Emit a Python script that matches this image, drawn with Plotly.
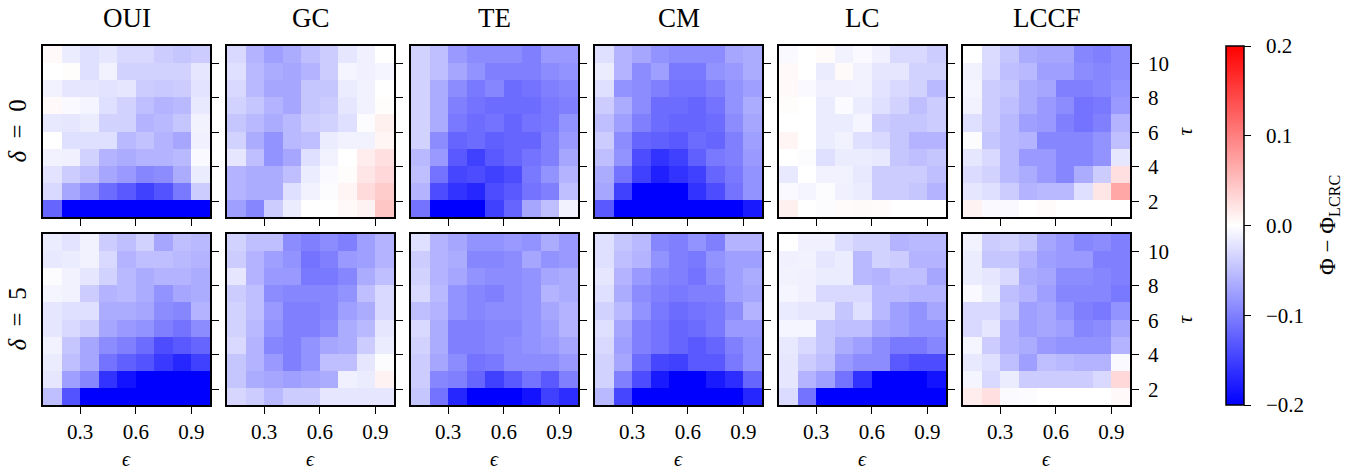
import plotly.graph_objects as go

# Grid of the parameter sweep: epsilon columns and tau rows (cell edges)
EPS_EDGES = [0.1, 0.2, 0.3, 0.4, 0.5, 0.6, 0.7, 0.8, 0.9, 1.0]
TAU_EDGES = [1.1, 2.09, 3.08, 4.07, 5.06, 6.05, 7.04, 8.03, 9.02, 10.01, 11.0]

METHODS = ["OUI", "GC", "TE", "CM", "LC", "LCCF"]
DELTAS = ["0", "5"]

EPS_TICKS = [0.3, 0.6, 0.9]
TAU_TICKS = [2, 4, 6, 8, 10]
CBAR_TICKS = [-0.2, -0.1, 0.0, 0.1, 0.2]
CBAR_LABELS = ["\u22120.2", "\u22120.1", "0.0", "0.1", "0.2"]

# Phi - Phi_LCRC, rows listed from the largest tau (top) down to the smallest
OUI_D0 = [
    [0.005, -0.015, -0.025, -0.02, -0.03, -0.03, -0.04, -0.045, -0.04],
    [0.0, 0.002, -0.025, -0.01, -0.035, -0.035, -0.035, -0.035, -0.02],
    [-0.01, -0.02, -0.02, -0.022, -0.02, -0.04, -0.042, -0.04, -0.022],
    [0.005, -0.005, -0.008, -0.025, -0.035, -0.05, -0.06, -0.055, -0.018],
    [-0.018, -0.02, -0.015, -0.035, -0.035, -0.06, -0.055, -0.045, -0.01],
    [0.0, -0.025, -0.025, -0.025, -0.055, -0.048, -0.06, -0.07, -0.012],
    [-0.01, -0.012, -0.035, -0.06, -0.065, -0.06, -0.06, -0.055, -0.005],
    [-0.022, -0.04, -0.05, -0.07, -0.08, -0.095, -0.09, -0.065, -0.015],
    [-0.03, -0.07, -0.09, -0.115, -0.13, -0.15, -0.135, -0.105, -0.04],
    [-0.12, -0.2, -0.2, -0.2, -0.2, -0.2, -0.2, -0.2, -0.2],
]
GC_D0 = [
    [-0.03, -0.06, -0.075, -0.065, -0.05, -0.04, -0.02, -0.012, 0.0],
    [-0.025, -0.055, -0.065, -0.07, -0.06, -0.04, -0.008, -0.012, -0.008],
    [-0.03, -0.055, -0.07, -0.07, -0.045, -0.045, -0.015, -0.01, 0.0],
    [-0.035, -0.045, -0.06, -0.07, -0.045, -0.04, -0.02, -0.01, 0.002],
    [-0.045, -0.055, -0.065, -0.055, -0.04, -0.035, -0.025, -0.002, 0.012],
    [-0.035, -0.065, -0.085, -0.055, -0.05, -0.015, -0.01, -0.01, 0.008],
    [-0.02, -0.05, -0.085, -0.07, -0.025, -0.01, 0.0, 0.015, 0.025],
    [-0.06, -0.065, -0.065, -0.05, -0.015, -0.005, 0.002, 0.02, 0.03],
    [-0.06, -0.065, -0.065, -0.025, -0.01, -0.002, 0.008, 0.028, 0.04],
    [-0.075, -0.095, -0.04, -0.015, 0.0, 0.0, 0.005, 0.01, 0.045],
]
TE_D0 = [
    [-0.035, -0.05, -0.08, -0.09, -0.09, -0.09, -0.1, -0.08, -0.08],
    [-0.035, -0.05, -0.07, -0.085, -0.1, -0.1, -0.1, -0.09, -0.085],
    [-0.035, -0.065, -0.09, -0.105, -0.095, -0.115, -0.11, -0.1, -0.095],
    [-0.035, -0.065, -0.1, -0.11, -0.115, -0.115, -0.115, -0.105, -0.1],
    [-0.035, -0.065, -0.105, -0.115, -0.11, -0.12, -0.11, -0.105, -0.085],
    [-0.035, -0.09, -0.12, -0.115, -0.125, -0.12, -0.12, -0.1, -0.08],
    [-0.055, -0.08, -0.13, -0.15, -0.13, -0.12, -0.11, -0.1, -0.07],
    [-0.05, -0.11, -0.145, -0.14, -0.15, -0.14, -0.105, -0.085, -0.06],
    [-0.06, -0.14, -0.16, -0.17, -0.14, -0.13, -0.11, -0.1, -0.05],
    [-0.11, -0.2, -0.2, -0.2, -0.15, -0.12, -0.07, -0.05, -0.01],
]
CM_D0 = [
    [-0.025, -0.06, -0.07, -0.085, -0.09, -0.09, -0.09, -0.07, -0.065],
    [-0.015, -0.06, -0.09, -0.075, -0.105, -0.105, -0.085, -0.08, -0.065],
    [-0.025, -0.085, -0.09, -0.1, -0.11, -0.11, -0.1, -0.085, -0.075],
    [-0.04, -0.065, -0.09, -0.115, -0.115, -0.12, -0.11, -0.085, -0.065],
    [-0.05, -0.075, -0.1, -0.115, -0.12, -0.12, -0.115, -0.09, -0.07],
    [-0.04, -0.09, -0.12, -0.125, -0.13, -0.115, -0.12, -0.1, -0.075],
    [-0.05, -0.085, -0.14, -0.16, -0.15, -0.125, -0.105, -0.1, -0.08],
    [-0.065, -0.11, -0.15, -0.175, -0.16, -0.15, -0.12, -0.105, -0.085],
    [-0.07, -0.15, -0.2, -0.2, -0.2, -0.16, -0.14, -0.11, -0.085],
    [-0.13, -0.2, -0.2, -0.2, -0.2, -0.2, -0.2, -0.2, -0.18],
]
LC_D0 = [
    [-0.005, 0.0, 0.003, -0.01, -0.005, -0.012, -0.03, -0.03, -0.04],
    [0.005, 0.0, -0.015, 0.004, -0.01, -0.02, -0.02, -0.035, -0.035],
    [0.005, -0.005, -0.012, -0.012, -0.01, -0.022, -0.03, -0.035, -0.055],
    [0.002, 0.0, -0.015, -0.003, -0.015, -0.025, -0.035, -0.05, -0.04],
    [0.0, 0.0, -0.015, -0.015, -0.008, -0.04, -0.045, -0.045, -0.04],
    [0.008, 0.0, -0.015, -0.01, -0.025, -0.03, -0.045, -0.06, -0.06],
    [0.0, -0.002, -0.025, -0.015, -0.015, -0.018, -0.045, -0.05, -0.045],
    [-0.018, 0.0, -0.01, -0.01, -0.018, -0.04, -0.04, -0.04, -0.05],
    [-0.005, -0.008, -0.002, -0.012, -0.015, -0.04, -0.04, -0.045, -0.06],
    [0.012, 0.0, -0.002, 0.003, 0.004, 0.003, 0.0, 0.0, 0.0],
]
LCCF_D0 = [
    [0.0, -0.028, -0.045, -0.065, -0.07, -0.07, -0.095, -0.1, -0.09],
    [-0.01, -0.03, -0.05, -0.055, -0.075, -0.075, -0.09, -0.095, -0.09],
    [-0.008, -0.04, -0.045, -0.065, -0.07, -0.1, -0.1, -0.095, -0.085],
    [-0.01, -0.04, -0.05, -0.065, -0.08, -0.09, -0.11, -0.105, -0.08],
    [-0.025, -0.04, -0.055, -0.075, -0.08, -0.1, -0.11, -0.1, -0.06],
    [-0.002, -0.045, -0.055, -0.06, -0.095, -0.095, -0.095, -0.085, -0.05],
    [-0.02, -0.03, -0.055, -0.08, -0.08, -0.095, -0.095, -0.085, -0.02],
    [-0.028, -0.035, -0.055, -0.065, -0.08, -0.095, -0.065, -0.04, 0.025],
    [-0.02, -0.025, -0.04, -0.06, -0.055, -0.055, -0.025, 0.02, 0.07],
    [0.01, -0.005, -0.005, 0.0, 0.003, 0.0, 0.0, 0.0, 0.0],
]
OUI_D5 = [
    [-0.015, -0.022, -0.01, -0.04, -0.05, -0.035, -0.07, -0.05, -0.055],
    [-0.018, -0.015, -0.01, -0.03, -0.06, -0.05, -0.05, -0.055, -0.06],
    [-0.002, -0.01, -0.02, -0.035, -0.055, -0.065, -0.06, -0.06, -0.065],
    [-0.008, -0.01, -0.04, -0.06, -0.055, -0.065, -0.085, -0.07, -0.065],
    [-0.02, -0.025, -0.025, -0.065, -0.065, -0.07, -0.09, -0.095, -0.06],
    [-0.02, -0.03, -0.04, -0.07, -0.08, -0.085, -0.1, -0.11, -0.09],
    [-0.01, -0.045, -0.07, -0.09, -0.1, -0.115, -0.14, -0.13, -0.12],
    [-0.015, -0.05, -0.07, -0.11, -0.125, -0.135, -0.155, -0.17, -0.15],
    [-0.02, -0.075, -0.095, -0.16, -0.185, -0.2, -0.2, -0.2, -0.2],
    [-0.05, -0.135, -0.2, -0.2, -0.2, -0.2, -0.2, -0.2, -0.2],
]
GC_D5 = [
    [-0.035, -0.05, -0.05, -0.09, -0.1, -0.09, -0.1, -0.075, -0.06],
    [-0.04, -0.06, -0.075, -0.085, -0.11, -0.1, -0.08, -0.075, -0.06],
    [-0.02, -0.06, -0.08, -0.08, -0.105, -0.105, -0.095, -0.065, -0.05],
    [-0.04, -0.05, -0.09, -0.095, -0.095, -0.095, -0.085, -0.05, -0.03],
    [-0.035, -0.05, -0.08, -0.1, -0.1, -0.095, -0.075, -0.065, -0.03],
    [-0.035, -0.055, -0.085, -0.1, -0.1, -0.09, -0.065, -0.055, -0.02],
    [-0.03, -0.06, -0.095, -0.1, -0.085, -0.07, -0.065, -0.04, -0.015],
    [-0.045, -0.06, -0.08, -0.1, -0.085, -0.05, -0.05, -0.02, -0.002],
    [-0.045, -0.065, -0.07, -0.075, -0.07, -0.065, -0.012, -0.015, 0.01],
    [-0.032, -0.04, -0.055, -0.04, -0.04, -0.02, -0.02, -0.02, -0.02],
]
TE_D5 = [
    [-0.025, -0.06, -0.07, -0.085, -0.085, -0.08, -0.085, -0.065, -0.08],
    [-0.04, -0.06, -0.065, -0.095, -0.095, -0.09, -0.07, -0.085, -0.08],
    [-0.035, -0.06, -0.07, -0.085, -0.09, -0.09, -0.085, -0.07, -0.065],
    [-0.03, -0.055, -0.085, -0.095, -0.1, -0.09, -0.085, -0.06, -0.065],
    [-0.05, -0.06, -0.085, -0.095, -0.09, -0.09, -0.085, -0.07, -0.06],
    [-0.03, -0.065, -0.1, -0.1, -0.095, -0.095, -0.085, -0.075, -0.06],
    [-0.035, -0.065, -0.1, -0.1, -0.095, -0.09, -0.085, -0.08, -0.07],
    [-0.04, -0.07, -0.09, -0.11, -0.105, -0.09, -0.09, -0.09, -0.08],
    [-0.04, -0.095, -0.1, -0.12, -0.15, -0.13, -0.11, -0.13, -0.1],
    [-0.045, -0.11, -0.17, -0.2, -0.2, -0.2, -0.185, -0.15, -0.165],
]
CM_D5 = [
    [-0.025, -0.045, -0.055, -0.095, -0.1, -0.085, -0.1, -0.06, -0.06],
    [-0.025, -0.05, -0.06, -0.085, -0.1, -0.105, -0.085, -0.075, -0.075],
    [-0.02, -0.06, -0.08, -0.095, -0.1, -0.11, -0.09, -0.075, -0.065],
    [-0.025, -0.065, -0.09, -0.1, -0.105, -0.1, -0.1, -0.075, -0.07],
    [-0.035, -0.055, -0.085, -0.105, -0.115, -0.11, -0.105, -0.09, -0.06],
    [-0.025, -0.07, -0.1, -0.11, -0.12, -0.115, -0.105, -0.08, -0.08],
    [-0.03, -0.075, -0.1, -0.11, -0.12, -0.13, -0.12, -0.1, -0.085],
    [-0.035, -0.07, -0.115, -0.145, -0.15, -0.13, -0.13, -0.105, -0.085],
    [-0.035, -0.1, -0.14, -0.18, -0.2, -0.2, -0.18, -0.165, -0.12],
    [-0.055, -0.145, -0.2, -0.2, -0.2, -0.2, -0.2, -0.2, -0.17],
]
LC_D5 = [
    [0.0, -0.012, -0.012, -0.027, -0.035, -0.035, -0.06, -0.055, -0.055],
    [-0.012, -0.01, -0.02, -0.015, -0.055, -0.035, -0.04, -0.06, -0.06],
    [-0.01, -0.012, -0.015, -0.015, -0.055, -0.06, -0.05, -0.05, -0.07],
    [-0.008, -0.012, -0.03, -0.03, -0.03, -0.055, -0.055, -0.06, -0.06],
    [-0.016, -0.02, -0.02, -0.045, -0.025, -0.055, -0.075, -0.085, -0.07],
    [-0.008, -0.008, -0.045, -0.05, -0.05, -0.07, -0.075, -0.085, -0.085],
    [-0.018, -0.03, -0.045, -0.065, -0.075, -0.09, -0.105, -0.105, -0.095],
    [-0.02, -0.04, -0.05, -0.08, -0.09, -0.09, -0.13, -0.14, -0.14],
    [-0.02, -0.06, -0.075, -0.11, -0.16, -0.2, -0.2, -0.2, -0.185],
    [-0.028, -0.11, -0.2, -0.2, -0.2, -0.2, -0.2, -0.2, -0.2],
]
LCCF_D5 = [
    [-0.01, -0.04, -0.035, -0.045, -0.07, -0.08, -0.095, -0.09, -0.1],
    [-0.015, -0.045, -0.045, -0.06, -0.075, -0.08, -0.08, -0.1, -0.1],
    [-0.015, -0.02, -0.03, -0.065, -0.07, -0.09, -0.09, -0.095, -0.1],
    [-0.005, -0.015, -0.05, -0.06, -0.075, -0.095, -0.095, -0.095, -0.105],
    [-0.03, -0.03, -0.045, -0.075, -0.07, -0.085, -0.1, -0.105, -0.085],
    [-0.03, -0.02, -0.06, -0.075, -0.07, -0.075, -0.095, -0.09, -0.07],
    [-0.008, -0.04, -0.06, -0.065, -0.08, -0.085, -0.085, -0.085, -0.06],
    [-0.018, -0.025, -0.05, -0.075, -0.05, -0.055, -0.06, -0.06, -0.005],
    [-0.008, -0.03, -0.015, -0.04, -0.04, -0.04, -0.04, -0.03, 0.03],
    [0.015, 0.025, -0.003, -0.002, 0.0, 0.0, 0.0, 0.0, 0.005],
]

PANELS = [
    [OUI_D0, GC_D0, TE_D0, CM_D0, LC_D0, LCCF_D0],
    [OUI_D5, GC_D5, TE_D5, CM_D5, LC_D5, LCCF_D5],
]

# ---- figure geometry (pixels) ----
W, H = 1347, 472
COL_LEFT = [43, 227, 411, 595, 779, 963]
PANEL_W = 167
ROW_TOP = [46, 234]
PANEL_H = 171

FONT = "Liberation Serif, DejaVu Serif, serif"
TICK_SIZE = 21
BWR = [[0.0, "rgb(0,0,255)"], [0.5, "rgb(255,255,255)"], [1.0, "rgb(255,0,0)"]]

fig = go.Figure()
layout = dict(
    width=W, height=H,
    margin=dict(l=0, r=0, t=0, b=0),
    paper_bgcolor="white", plot_bgcolor="white",
    font=dict(family=FONT, size=TICK_SIZE, color="black"),
    showlegend=False,
    coloraxis=dict(
        colorscale=BWR, cmin=-0.2, cmax=0.2,
        colorbar=dict(
            x=1226 / W, xanchor="left", xpad=0,
            y=1 - 46 / H, yanchor="top", ypad=0,
            len=(405 - 46) / H, lenmode="fraction",
            thickness=18, thicknessmode="pixels",
            outlinewidth=1.5, outlinecolor="black",
            ticks="outside", ticklen=7, tickwidth=1.2, tickcolor="black",
            tickvals=CBAR_TICKS,
            ticktext=["\u00a0\u00a0" + t for t in CBAR_LABELS],
            tickfont=dict(family=FONT, size=TICK_SIZE),
        ),
    ),
)

annotations = []
for r in range(2):
    for c in range(6):
        k = r * 6 + c + 1
        xs = "" if k == 1 else str(k)
        fig.add_trace(go.Heatmap(
            z=PANELS[r][c][::-1], x=EPS_EDGES, y=TAU_EDGES,
            coloraxis="coloraxis", zsmooth=False,
            xaxis="x" + xs, yaxis="y" + xs,
        ))
        x0 = COL_LEFT[c] / W
        x1 = (COL_LEFT[c] + PANEL_W) / W
        y1 = 1 - ROW_TOP[r] / H
        y0 = 1 - (ROW_TOP[r] + PANEL_H) / H
        layout["xaxis" + xs] = dict(
            domain=[x0, x1], anchor="y" + xs, range=[0.1, 1.0],
            tickvals=EPS_TICKS, ticktext=[f"{v:.1f}" for v in EPS_TICKS],
            showticklabels=(r == 1), ticks="outside", ticklen=7, tickwidth=1.2,
            tickcolor="black", showline=True, mirror=True, linewidth=1.5,
            linecolor="black", showgrid=False, zeroline=False,
            tickfont=dict(family=FONT, size=TICK_SIZE),
        )
        layout["yaxis" + xs] = dict(
            domain=[y0, y1], anchor="x" + xs, range=[1.1, 11.0], side="right",
            tickvals=TAU_TICKS, showticklabels=(c == 5), ticks="outside",
            ticklen=7, tickwidth=1.2, tickcolor="black", showline=True,
            mirror=True, linewidth=1.5, linecolor="black", showgrid=False,
            zeroline=False, tickfont=dict(family=FONT, size=TICK_SIZE),
            ticklabelstandoff=5,
        )
        if r == 0:
            annotations.append(dict(
                text=METHODS[c], x=(x0 + x1) / 2, y=1 - 18 / H,
                xref="paper", yref="paper", showarrow=False,
                font=dict(family=FONT, size=27), xanchor="center", yanchor="middle",
            ))
        if r == 1:
            annotations.append(dict(
                text="<i>\u03f5</i>", x=(x0 + x1) / 2, y=1 - 459 / H,
                xref="paper", yref="paper", showarrow=False,
                font=dict(family=FONT, size=20), xanchor="center", yanchor="middle",
            ))
    yc = 1 - (ROW_TOP[r] + PANEL_H / 2) / H
    annotations.append(dict(
        text=f"<i>\u03b4</i>\u2002=\u2002{DELTAS[r]}", x=17 / W, y=yc,
        xref="paper", yref="paper", showarrow=False, textangle=-90,
        font=dict(family=FONT, size=25), xanchor="center", yanchor="middle",
    ))
    annotations.append(dict(
        text="<i>\u03c4</i>", x=1184 / W, y=yc,
        xref="paper", yref="paper", showarrow=False, textangle=-90,
        font=dict(family=FONT, size=21), xanchor="center", yanchor="middle",
    ))

# colour bar label, rotated, to the right of the colour bar tick labels
annotations.append(dict(
    text="\u03a6 \u2212 \u03a6<sub>LCRC</sub>", x=1329 / W, y=1 - 225 / H,
    xref="paper", yref="paper", showarrow=False, textangle=-90,
    font=dict(family=FONT, size=23), xanchor="center", yanchor="middle",
))

layout["annotations"] = annotations
fig.update_layout(**layout)
fig.write_html("out.html")
